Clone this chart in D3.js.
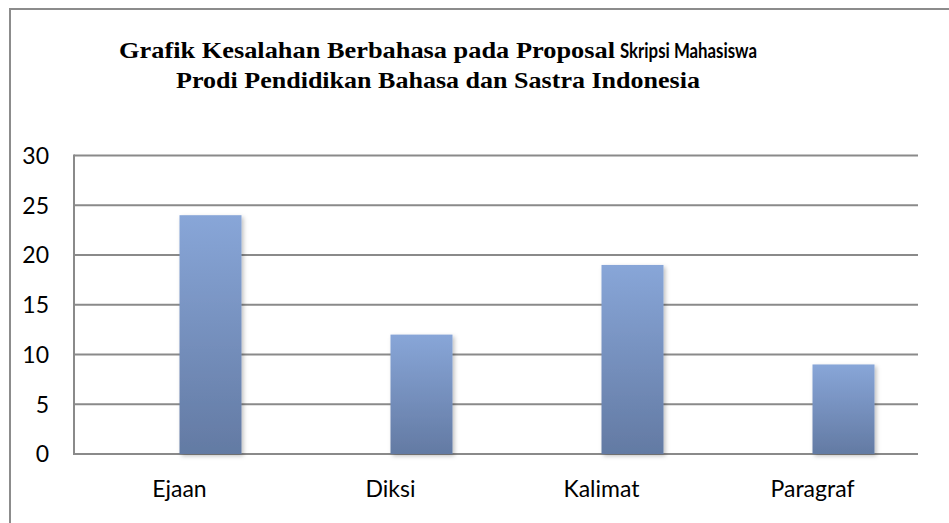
<!DOCTYPE html>
<html>
<head>
<meta charset="utf-8">
<script src="https://cdn.jsdelivr.net/npm/d3@7"></script>
<style>
  body { margin: 0; background: #fff; }
  svg { display: block; }
</style>
</head>
<body>
<div id="chart"></div>
<script>
// data
const categories = ["Ejaan", "Diksi", "Kalimat", "Paragraf"];
const values = [24, 12, 19, 9];
const yTicks = [0, 5, 10, 15, 20, 25, 30];

const outerWidth = 949;
const outerHeight = 523;

const plot = { left: 74, right: 918, top: 155.5, bottom: 454 };
const barWidth = 62;

const svg = d3.select("#chart").append("svg")
	.attr("width", outerWidth)
	.attr("height", outerHeight);

const defs = svg.append("defs");

const grad = defs.append("linearGradient")
	.attr("id", "barGrad")
	.attr("x1", 0).attr("y1", 0)
	.attr("x2", 0).attr("y2", 1);
grad.append("stop").attr("offset", "0%").attr("stop-color", "#88a6d8");
grad.append("stop").attr("offset", "100%").attr("stop-color", "#637aa3");

const shadow = defs.append("filter")
	.attr("id", "barShadow")
	.attr("x", "-20%").attr("y", "-10%")
	.attr("width", "150%").attr("height", "130%");
shadow.append("feDropShadow")
	.attr("dx", 2).attr("dy", 2)
	.attr("stdDeviation", 2)
	.attr("flood-color", "#000")
	.attr("flood-opacity", 0.25);

// outer frame (runs off the right and bottom edges)
svg.append("rect")
	.attr("x", 10)
	.attr("y", 9)
	.attr("width", outerWidth + 20)
	.attr("height", outerHeight + 20)
	.attr("fill", "none")
	.attr("stroke", "#8c8c8c")
	.attr("stroke-width", 2);

// title
const serif = "'Liberation Serif', 'Times New Roman', serif";
const sans = "Lato, 'Open Sans', sans-serif";

svg.append("text")
	.attr("x", 119)
	.attr("y", 58)
	.style("font-family", serif)
	.style("font-weight", "bold")
	.style("font-size", "23.5px")
	.attr("textLength", 496)
	.attr("lengthAdjust", "spacingAndGlyphs")
	.text("Grafik Kesalahan Berbahasa pada Proposal");

svg.append("text")
	.attr("x", 620)
	.attr("y", 58)
	.style("font-family", sans)
	.style("font-weight", "bold")
	.style("font-size", "20px")
	.attr("textLength", 137)
	.attr("lengthAdjust", "spacingAndGlyphs")
	.text("Skripsi Mahasiswa");

svg.append("text")
	.attr("x", 176)
	.attr("y", 88)
	.style("font-family", serif)
	.style("font-weight", "bold")
	.style("font-size", "23.5px")
	.attr("textLength", 524)
	.attr("lengthAdjust", "spacingAndGlyphs")
	.text("Prodi Pendidikan Bahasa dan Sastra Indonesia");

// scales
const y = d3.scaleLinear()
	.domain([0, 30])
	.range([plot.bottom, plot.top]);

const x = d3.scaleBand()
	.domain(categories)
	.range([plot.left, plot.right]);

// gridlines
svg.append("g")
	.selectAll("line")
	.data(yTicks)
	.enter()
	.append("line")
	.attr("x1", plot.left)
	.attr("x2", plot.right)
	.attr("y1", d => y(d))
	.attr("y2", d => y(d))
	.attr("stroke", "#8a8a8a")
	.attr("stroke-width", 2);

// left axis line
svg.append("line")
	.attr("x1", plot.left)
	.attr("x2", plot.left)
	.attr("y1", y(30) - 1)
	.attr("y2", y(0) + 1)
	.attr("stroke", "#8a8a8a")
	.attr("stroke-width", 2);

// y tick labels
svg.append("g")
	.selectAll("text")
	.data(yTicks)
	.enter()
	.append("text")
	.attr("x", 49)
	.attr("y", d => y(d))
	.attr("dy", "0.36em")
	.attr("text-anchor", "end")
	.style("font-family", sans)
	.style("font-size", "23px")
	.attr("fill", "#000")
	.text(d => d);

// bars (second slot of the category band, first slot is empty)
svg.append("g")
	.selectAll("rect")
	.data(categories.map((c, i) => ({ cat: c, val: values[i] })))
	.enter()
	.append("rect")
	.attr("x", d => x(d.cat) + x.bandwidth() / 2)
	.attr("y", d => y(d.val))
	.attr("width", barWidth)
	.attr("height", d => y(0) - y(d.val))
	.attr("fill", "url(#barGrad)")
	.attr("filter", "url(#barShadow)");

// x labels
svg.append("g")
	.selectAll("text")
	.data(categories)
	.enter()
	.append("text")
	.attr("x", d => x(d) + x.bandwidth() / 2)
	.attr("y", 497)
	.attr("text-anchor", "middle")
	.style("font-family", sans)
	.style("font-size", "23px")
	.attr("fill", "#000")
	.text(d => d);
</script>
</body>
</html>
